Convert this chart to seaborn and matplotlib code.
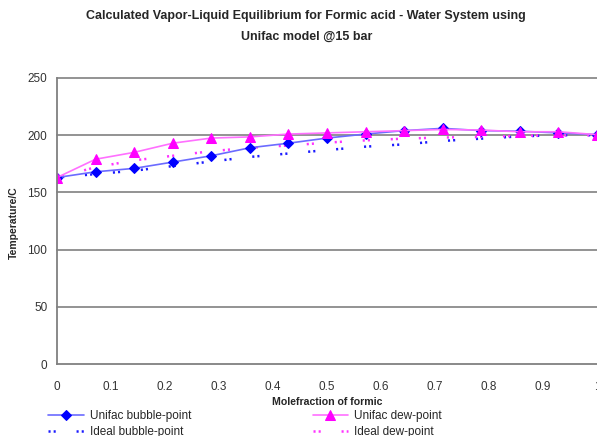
import matplotlib
matplotlib.use("Agg")
import matplotlib.pyplot as plt
import seaborn as sns
import pandas as pd

# Mole fraction of formic acid (liquid / vapour), 15 points
mole_fraction = [0.0, 0.0714, 0.1429, 0.2143, 0.2857, 0.3571, 0.4286, 0.5,
                 0.5714, 0.6429, 0.7143, 0.7857, 0.8571, 0.9286, 1.0]

# Temperatures in C
unifac_bubble = [163, 168, 171, 176.5, 182, 189, 193, 197.5, 201, 204, 206, 204, 203.5, 202, 200.5]
unifac_dew = [163, 179, 185, 193, 197.5, 198.5, 201, 202, 203, 204, 205, 204.5, 203, 203, 200.5]
ideal_bubble = [163, 166, 169, 173, 177, 181, 184, 187, 190, 192, 195, 197, 199, 200, 200]
ideal_dew = [163, 172, 178, 182, 186, 189, 191, 193.5, 195.5, 197, 198, 198.5, 199.5, 200, 200]

y_ticks = [0, 50, 100, 150, 200, 250]
x_ticks = [0, 0.1, 0.2, 0.3, 0.4, 0.5, 0.6, 0.7, 0.8, 0.9, 1]
x_tick_labels = ["0", "0.1", "0.2", "0.3", "0.4", "0.5", "0.6", "0.7", "0.8", "0.9", "1"]

df = pd.DataFrame({
    "x": mole_fraction,
    "unifac_bubble": unifac_bubble,
    "unifac_dew": unifac_dew,
    "ideal_bubble": ideal_bubble,
    "ideal_dew": ideal_dew,
})

sns.set_theme(style="white")
plt.rcParams["font.family"] = ["Liberation Sans", "DejaVu Sans"]
plt.rcParams["lines.scale_dashes"] = False

fig = plt.figure(figsize=(5.97, 4.36), dpi=100)
ax = fig.add_axes([57 / 597, 72 / 436, 540 / 597, 286 / 436])

dot_style = (0, (1.5, 2.2, 1.5, 15))

sns.lineplot(data=df, x="x", y="ideal_bubble", ax=ax, color="#1a1aff",
             linewidth=1.8, linestyle=dot_style, label="Ideal bubble-point")
sns.lineplot(data=df, x="x", y="ideal_dew", ax=ax, color="#ff33ff",
             linewidth=1.8, linestyle=dot_style, label="Ideal dew-point")
sns.lineplot(data=df, x="x", y="unifac_bubble", ax=ax, color="#6b6bff",
             linewidth=1.2, marker="D", markersize=5.5, markerfacecolor="#0000ff",
             markeredgecolor="#0000ff", label="Unifac bubble-point")
sns.lineplot(data=df, x="x", y="unifac_dew", ax=ax, color="#ff70ff",
             linewidth=1.2, marker="^", markersize=7, markerfacecolor="#ff00ff",
             markeredgecolor="#ff00ff", label="Unifac dew-point")

ax.set_xlim(0, 1)
ax.set_ylim(0, 250)
ax.set_yticks(y_ticks)
ax.set_xticks(x_ticks)
ax.set_xticklabels(x_tick_labels)
for y in y_ticks[1:]:
    ax.axhline(y, color="#8a8a8a", linewidth=1.3, zorder=0, clip_on=False)

for side in ["top", "right"]:
    ax.spines[side].set_visible(False)
for side in ["left", "bottom"]:
    ax.spines[side].set_color("#808080")
    ax.spines[side].set_linewidth(1.3)

ax.tick_params(axis="both", which="major", labelsize=8.5, labelcolor="#333333",
               color="#808080", length=4, width=1, direction="out")
ax.tick_params(axis="x", pad=8)
ax.tick_params(axis="y", pad=3)

ax.set_xlabel("Molefraction of formic", fontsize=7.6, fontweight="bold", labelpad=3)
ax.set_ylabel("")
fig.text(14 / 597, 1 - 223 / 436, "Temperature/C", rotation=90, fontsize=7.5,
         fontweight="bold", ha="center", va="center")

fig.suptitle("Calculated Vapor-Liquid Equilibrium for Formic acid - Water System using\n"
             "Unifac model @15 bar", x=0.513, y=0.978, fontsize=9, fontweight="bold",
             linespacing=2.0)

handles, labels = ax.get_legend_handles_labels()
ax.get_legend().remove()
order = ["Unifac bubble-point", "Ideal bubble-point", "Unifac dew-point", "Ideal dew-point"]
hmap = dict(zip(labels, handles))
fig.legend([hmap[k] for k in order], order, ncol=2, loc="lower left",
           bbox_to_anchor=(0.073, -0.016), frameon=False, fontsize=8.5,
           handlelength=3.0, handletextpad=0.5, columnspacing=10.3,
           labelspacing=0.35, borderaxespad=0)

fig.savefig("out.png", dpi=100)
